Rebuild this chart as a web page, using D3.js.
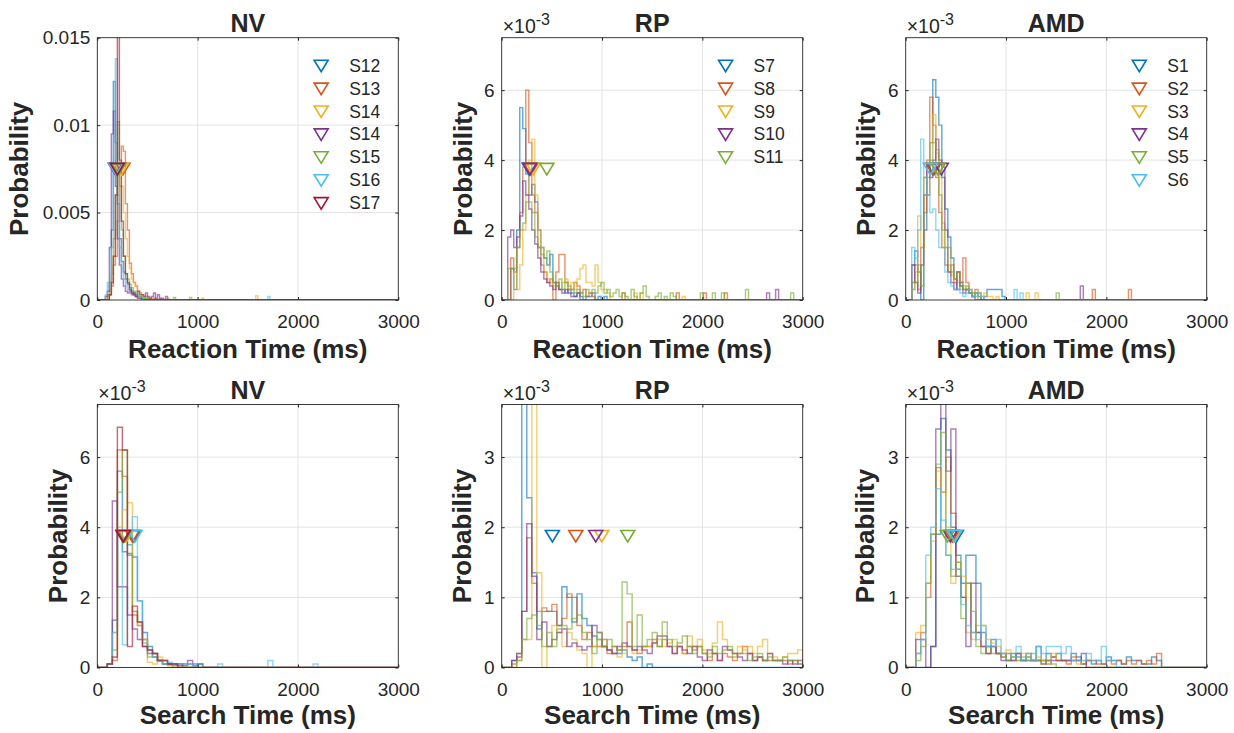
<!DOCTYPE html>
<html><head><meta charset="utf-8">
<script src="https://cdn.jsdelivr.net/npm/d3@7"></script>
<style>
body{margin:0;background:#fff}
text{font-family:"Liberation Sans",Arial,Helvetica,sans-serif;fill:#262626}
</style>
</head><body>
<svg id="chart" width="1234" height="733"></svg>
<script>
// ---------------- DATA (probability values in units of 1e-3) ----------------
const xTickValues = [0, 1000, 2000, 3000];
const seriesColors = ["#0072BD", "#D95319", "#EDB120", "#7E2F8E", "#77AC30", "#4DBEEE", "#A2142F"];
const nvNames = ["S12", "S13", "S14", "S14", "S15", "S16", "S17"];
const rpNames = ["S7", "S8", "S9", "S10", "S11"];
const amdNames = ["S1", "S2", "S3", "S4", "S5", "S6"];

// Reaction time, NV  (bins of 20 ms starting at 80 ms)
const rtNVStart = 80, rtNVWidth = 20;
const rtNVCounts = [
  [0, 0.3, 1.0, 4.0, 12.5, 9.0, 5.5, 3.5, 2.2, 1.6, 1.2, 0.9, 0.7, 0.5, 0.4, 0.3, 0.2, 0.2, 0.1, 0.1, 0, 0.1],
  [0, 0, 0.3, 0.8, 2.0, 2.5, 4.5, 7.3, 8.8, 8.5, 5.5, 4.0, 2.1, 1.5, 1.0, 0.8, 0.5, 0.4, 0.3, 0.2, 0.2, 0.1, 0.1, 0, 0.1],
  [0, 0.2, 0.5, 1.2, 2.5, 4.0, 6.0, 7.0, 6.5, 5.0, 3.5, 2.5, 1.8, 1.2, 1.0, 0.8, 0.5, 0.4, 0.3, 0.2, 0.2, 0.1, 0.1, 0, 0.1, 0, 0, 0.1, 0, 0, 0, 0.1],
  [0.2, 0.5, 3.0, 9.5, 10.8, 6.5, 3.5, 2.0, 1.2, 0.8, 0.5, 0.4, 0.5, 0.3, 0.4, 0.2, 0.5, 0.3, 0.3, 0.2, 0.4, 0.2, 0.1, 0.2, 0.4, 0.1, 0.3, 0.1, 0.1, 0, 0.2],
  [0, 0, 0.3, 1.5, 3.5, 6.0, 10.2, 6.5, 4.0, 2.5, 1.5, 1.2, 0.9, 0.7, 0.5, 0.4, 0.3, 0.2, 0.2, 0.1, 0.1, 0.1],
  [0.3, 1.0, 0.6, 3.0, 8.0, 13.8, 6.0, 3.0, 1.8, 1.2, 0.8, 0.6, 0.5, 0.4, 0.3, 0.2, 0.2, 0.1, 0.1],
  [0, 0, 0.3, 1.0, 2.5, 6.0, 17.0, 8.0, 4.5, 2.5, 1.5, 1.0, 0.6, 0.4, 0.3, 0.2, 0.1, 0.1]
];
const rtNVOutliers = [[], [], [[1040, 0.1], [1590, 0.25]], [], [[770, 0.15], [920, 0.15]], [[1700, 0.2]], []];
const rtNVMedians = [195, 255, 240, 180, 215, 185, 200];
const rtNVYTicks = [0, 5, 10, 15];
const rtNVYTickLabels = ["0", "0.005", "0.01", "0.015"];

// Reaction time, RP  (bins of 30 ms starting at 60 ms)
const rtRPStart = 60, rtRPWidth = 30;
const rtRPCounts = [
  [0, 0.9, 0.3, 2.0, 5.5, 4.9, 3.6, 3.0, 3.3, 2.8, 2.0, 1.5, 1.2, 1.0, 1.3, 0.5, 0.4, 0.3, 0.3, 0.2, 0.3, 0.2, 0.1, 0.2, 0.1, 0, 0.1, 0.1, 0.2, 0, 0.1, 0, 0.1],
  [0, 1.2, 0.8, 1.5, 2.5, 3.8, 6.0, 4.5, 3.0, 2.5, 1.5, 1.0, 0.8, 0.5, 0.6, 0, 0.8, 1.3, 1.3, 0.5, 0.3, 0.3, 0.5, 0.4, 0.2, 0.3, 0.1, 0.2, 0.1],
  [0, 0, 0.8, 0.3, 1.0, 2.0, 3.0, 4.0, 4.6, 3.0, 2.0, 1.5, 0.8, 0.6, 0.5, 0.4, 0.5, 0.3, 0.5, 0.6, 0.3, 0.5, 0.3, 0.6, 0.9, 1.0, 0.5, 0.5, 0.4, 1.0, 0.5, 0.3, 0.3, 0.2],
  [1.8, 2.0, 1.5, 1.8, 2.4, 3.4, 3.0, 2.6, 2.0, 1.6, 1.2, 0.8, 0.6, 0.5, 0.4, 0.3, 0.5, 0.3, 0.2, 0.3, 0.2, 0.1, 0.1, 0.2],
  [0.9, 0.9, 0.9, 1.5, 2.0, 2.2, 2.8, 2.8, 2.5, 1.8, 1.5, 1.3, 1.2, 1.4, 0.8, 0.5, 0.4, 0.6, 0.3, 0.5, 0.4, 0.3, 0.2, 0.3, 0.2, 0.1, 0.3, 0.2, 0.3, 0.2, 0.4, 0.5, 0.2, 0.3, 0.1, 0.2, 0.3, 0.1, 0.2, 0.1, 0, 0.3, 0.1, 0, 0.2, 0.4, 0.1, 0, 0, 0.1, 0.2, 0, 0.1, 0, 0.2, 0.1]
];
const rtRPOutliers = [[], [[1200, 0.2], [1750, 0.2], [2030, 0.2], [2230, 0.2]], [[1320, 0.2], [1400, 0.2], [1800, 0.1]], [[2650, 0.2], [2750, 0.3]], [[2000, 0.2], [2100, 0.2], [2200, 0.2], [2450, 0.3], [2900, 0.2]]];
const rtRPMedians = [275, 290, 315, 280, 450];

// Reaction time, AMD  (bins of 30 ms starting at 60 ms)
const rtAMDStart = 60, rtAMDWidth = 30;
const rtAMDCounts = [
  [1.0, 1.4, 0.8, 0, 2.0, 3.0, 4.5, 6.3, 5.8, 5.0, 3.5, 2.6, 1.8, 1.2, 0.6, 0.3, 0.5, 0.3, 0.3, 0.2, 0.1, 0.2, 0.1, 0, 0.1, 0.3, 0.3, 0.3, 0.3, 0.3, 0.1],
  [0.5, 1.0, 0.3, 1.5, 2.5, 4.0, 5.8, 5.0, 3.5, 2.5, 1.5, 1.0, 0.8, 1.0, 0.5, 0.8, 0.5, 1.2, 0.5, 0.3, 0.2, 0.3, 0.2],
  [0.3, 0.8, 2.4, 1.5, 3.5, 3.0, 4.5, 5.3, 4.2, 3.5, 2.2, 1.5, 1.0, 0.7, 0.6, 0.5, 0.3, 0.4, 0.3, 0.2, 0.2, 0.1, 0.2, 0.1, 0.2, 0.1, 0.1, 0, 0.1],
  [1.0, 0.5, 0.2, 1.0, 3.0, 3.9, 3.5, 4.0, 4.6, 4.0, 3.8, 2.0, 0.8, 0.5, 0.3, 0.8, 0.4, 0.2, 0.3, 0.2, 0.1],
  [0.3, 0.5, 1.0, 0.4, 3.5, 3.5, 4.0, 4.5, 4.3, 3.0, 2.0, 1.5, 1.5, 0.8, 0.6, 0.8, 0.4, 0.3, 0.4, 0.2, 0.1, 0.2],
  [1.5, 1.2, 2.0, 4.6, 3.5, 3.0, 2.5, 2.6, 2.0, 1.5, 1.5, 0.8, 0.5, 0.4, 0.3, 0.3, 0.2, 0.1, 0.2, 0.3, 0.1, 0.1, 0.2, 0.1]
];
const rtAMDOutliers = [[], [[1870, 0.3], [2220, 0.3]], [[1220, 0.2], [1290, 0.2]], [[1750, 0.4]], [[1500, 0.2]], [[1100, 0.3], [1160, 0.2]]];
const rtAMDMedians = [280, 270, 320, 355, 325, 245];
const rtYTicks = [0, 2, 4, 6];
const rtYTickLabels = ["0", "2", "4", "6"];

// Search time, NV  (bins of 50 ms starting at 100 ms)
const stNVStart = 100, stNVWidth = 50;
const stNVCounts = [
  [0.1, 1.35, 5.6, 3.3, 3.25, 3.15, 1.9, 1.0, 0.6, 0.4, 0.2, 0.2, 0.1, 0.1, 0.1, 0.05, 0.1, 0.1, 0.1],
  [0.1, 0.2, 6.2, 5.45, 3.2, 1.5, 1.3, 0.8, 0.5, 0.4, 0.2, 0.1, 0.1, 0.05, 0.1],
  [0.1, 1.0, 4.0, 4.5, 4.7, 1.6, 1.2, 0.8, 0.15, 0.1, 0.3, 0.2, 0.1],
  [0.1, 4.75, 2.3, 2.3, 1.5, 1.1, 0.8, 0.6, 0.4, 0.3, 0.2, 0.1, 0.1, 0.1, 0.05, 0.1, 0.2, 0.05, 0.1],
  [0.1, 0.5, 5.0, 6.2, 3.5, 1.6, 1.2, 0.7, 0.3, 0.3, 0.2, 0.1, 0.05],
  [0.1, 1.0, 3.8, 0.65, 3.5, 4.3, 1.9, 0.8, 0.5, 0.3, 0.2, 0.1, 0.15, 0.1, 0.1, 0.1, 0.1, 0.05, 0.1],
  [0.1, 0.3, 6.85, 6.2, 0.6, 1.75, 1.3, 0.6, 0.5, 0.4, 0.2, 0.2, 0.1, 0.1]
];
const stNVOutliers = [[], [], [], [], [], [[1200, 0.1], [1730, 0.2], [2180, 0.1]], []];
const stNVMedians = [365, 350, 290, 255, 275, 375, 260];
const stNVYTicks = [0, 2, 4, 6];
const stNVYTickLabels = ["0", "2", "4", "6"];

// Search time, RP  (bins of 50 ms starting at 100 ms)
const stRPStart = 100, stRPWidth = 50;
const stRPCounts = [
  [0.1, 0.2, 4.5, 2.42, 1.35, 0.55, 0.8, 0.8, 0.8, 0.6, 1.15, 1.0, 0.65, 1.05, 0.7, 0.6, 0.45, 0.4, 0.3, 0.25, 0.2, 0.2, 0.25, 0.15, 0.1, 0.15, 0, 0.05],
  [0.05, 0.2, 0.8, 1.85, 1.2, 0.8, 0.85, 0.8, 0.9, 0.6, 0.7, 1.05, 1.0, 0.6, 0.4, 0.5, 0.3, 0.3, 0.4, 0.2, 0.3, 0.25, 0.3, 0.65, 0.25, 0.2, 0.3, 0.3, 0.4, 0.3, 0.4, 0.3, 0.2, 0.3, 0.2, 0.3, 0.25, 0.3, 0.2, 0.1, 0.2, 0.1, 0.2, 0.15, 0.1, 0.2, 0.3, 0.2, 0.1, 0.15, 0.1, 0.1, 0.1, 0.1, 0.1, 0.05, 0.1, 0.05],
  [0, 0.1, 0.4, 0.4, 6.0, 1.35, 0, 0.3, 0.6, 0.5, 0.3, 0.5, 0.4, 0.25, 0.2, 0, 0.3, 0.4, 0.3, 0.25, 0.2, 0.15, 0.2, 0.3, 0.2, 0.25, 0.3, 0.3, 0.35, 0.4, 0.3, 0.35, 0.4, 0.3, 0.2, 0.45, 0.3, 0.4, 0.25, 0.2, 0.35, 0.65, 0.4, 0.25, 0.2, 0.3, 0.25, 0.3, 0.2, 0.3, 0.4, 0.2, 0.15, 0.1, 0.15, 0.2, 0.2, 0.25],
  [0.1, 0.15, 0.8, 2.05, 1.3, 0.4, 0.65, 0.3, 0.4, 0.5, 0.55, 0.3, 0.35, 0.3, 0.25, 0.3, 0.6, 0.5, 0.3, 0.25, 0.2, 0.3, 0.35, 0.3, 0.25, 0.3, 0.25, 0.2, 0.35, 0.45, 0.45, 0.3, 0.2, 0.3, 0.25, 0.2, 0.3, 0.15, 0.1, 0.25, 0.2, 0.1, 0.3, 0.25, 0.2, 0.15, 0.1, 0.2, 0.1, 0.15, 0.1, 0.2, 0.1, 0.1, 0.05, 0.1, 0.05, 0.1],
  [0, 0.1, 0.4, 0.7, 0.75, 0.6, 0.3, 0.5, 0.3, 0.55, 0.6, 0.55, 0.7, 0.75, 0.5, 0.4, 0.2, 0.5, 0.3, 0.4, 0.3, 0.25, 1.22, 1.05, 0.3, 0.75, 0.3, 0.4, 0.5, 0.3, 0.65, 0.4, 0.3, 0.35, 0.45, 0.3, 0.2, 0.3, 0.2, 0.15, 0.3, 0.2, 0.25, 0.3, 0.15, 0.2, 0.2, 0.1, 0.15, 0.2, 0.1, 0.15, 0.1, 0.1, 0.15, 0.1, 0.1, 0.05]
];
const stRPOutliers = [[], [], [], [], []];
const stRPMedians = [505, 738, 997, 937, 1256];

// Search time, AMD  (bins of 50 ms starting at 100 ms)
const stAMDStart = 100, stAMDWidth = 50;
const stAMDCounts = [
  [0, 0, 0, 0.3, 1.9, 3.55, 3.1, 2.0, 1.6, 1.2, 1.6, 1.6, 1.2, 0.5, 0.3, 0.4, 0.2, 0.2, 0.1, 0.2, 0.15, 0.1, 0.15, 0.1, 0.3, 0.1, 0.2, 0.15, 0.2, 0.1, 0.1, 0.2, 0.15, 0.05, 0.1, 0.05, 0.1, 0.05, 0.15, 0.1, 0.1, 0.05, 0.15, 0.1, 0.1, 0.05, 0.05, 0.15, 0.1],
  [0.2, 0.5, 1.0, 1.9, 2.85, 2.5, 3.0, 2.2, 1.4, 1.0, 1.2, 0.5, 0.5, 0.3, 0.2, 0.3, 0.2, 0.15, 0.2, 0.1, 0.2, 0.1, 0.2, 0.1, 0.1, 0.1, 0.05, 0.15, 0.1, 0.1, 0.05, 0.15, 0.1, 0.05, 0.1, 0.1, 0.05, 0.05, 0.1, 0.05, 0.1, 0.05, 0.1, 0.05, 0.1, 0.05, 0.1, 0.05, 0.2],
  [0.5, 0.6, 1.2, 1.8, 2.8, 2.5, 2.0, 1.2, 1.5, 1.3, 0.5, 0.4, 0.6, 0.6, 0.4, 0.35, 0.3, 0.2, 0.25, 0.15, 0.1, 0.2, 0.15, 0.1, 0.15, 0.1, 0.1, 0.2, 0.1, 0.1, 0.1, 0.1, 0.05, 0.1],
  [0.4, 0.4, 0, 0.3, 3.4, 4.0, 2.8, 3.4, 1.3, 1.0, 0.3, 1.2, 0.5, 0.3, 0.2, 0.3, 0.2, 0.1, 0.1, 0.1, 0.2, 0.1, 0.1, 0.1, 0.1, 0.05, 0.1, 0.1, 0.1, 0.1, 0.1, 0.1, 0.1, 0.2],
  [0.1, 0.3, 1.2, 1.9, 2.9, 3.35, 1.6, 1.3, 1.5, 0.7, 1.2, 0.8, 0.3, 0.2, 0.3, 0.2, 0.2, 0.15, 0.1, 0.15, 0.1, 0.15, 0.1, 0.2, 0.1, 0.05, 0.1, 0.05],
  [0.2, 0.4, 1.6, 2.0, 2.55, 2.1, 1.6, 1.4, 1.4, 0.9, 0.6, 0.5, 0.4, 0.6, 0.3, 0.3, 0.4, 0.2, 0.2, 0.15, 0.3, 0.1, 0.2, 0.1, 0.3, 0.2, 0.3, 0.3, 0.3, 0.2, 0.3, 0.1, 0.1, 0.1, 0.2, 0.1, 0.1, 0.3, 0.1, 0.1]
];
const stAMDOutliers = [[], [], [], [], [], []];
const stAMDMedians = [505, 465, 480, 445, 415, 490];
const stYTicks = [0, 1, 2, 3];
const stYTickLabels = ["0", "1", "2", "3"];

// ---------------- LAYOUT ----------------
const colX = [[97.3, 398.3], [501.7, 802.7], [905.7, 1206.7]];
const rowY = [[37.7, 300], [404.5, 667.5]];

const panels = [
  {row: 0, col: 0, title: "NV", xLabel: "Reaction Time (ms)", names: nvNames, start: rtNVStart, width: rtNVWidth, counts: rtNVCounts, outliers: rtNVOutliers, medians: rtNVMedians, yMax: 15, yTicks: rtNVYTicks, yTickLabels: rtNVYTickLabels, exponent: false, legend: true, yLabelOff: 69},
  {row: 0, col: 1, title: "RP", xLabel: "Reaction Time (ms)", names: rpNames, start: rtRPStart, width: rtRPWidth, counts: rtRPCounts, outliers: rtRPOutliers, medians: rtRPMedians, yMax: 7.5, yTicks: rtYTicks, yTickLabels: rtYTickLabels, exponent: true, legend: true, yLabelOff: 30},
  {row: 0, col: 2, title: "AMD", xLabel: "Reaction Time (ms)", names: amdNames, start: rtAMDStart, width: rtAMDWidth, counts: rtAMDCounts, outliers: rtAMDOutliers, medians: rtAMDMedians, yMax: 7.5, yTicks: rtYTicks, yTickLabels: rtYTickLabels, exponent: true, legend: true, yLabelOff: 31},
  {row: 1, col: 0, title: "NV", xLabel: "Search Time (ms)", names: nvNames, start: stNVStart, width: stNVWidth, counts: stNVCounts, outliers: stNVOutliers, medians: stNVMedians, yMax: 7.5, yTicks: stNVYTicks, yTickLabels: stNVYTickLabels, exponent: true, legend: false, yLabelOff: 30},
  {row: 1, col: 1, title: "RP", xLabel: "Search Time (ms)", names: rpNames, start: stRPStart, width: stRPWidth, counts: stRPCounts, outliers: stRPOutliers, medians: stRPMedians, yMax: 3.75, yTicks: stYTicks, yTickLabels: stYTickLabels, exponent: true, legend: false, yLabelOff: 31},
  {row: 1, col: 2, title: "AMD", xLabel: "Search Time (ms)", names: amdNames, start: stAMDStart, width: stAMDWidth, counts: stAMDCounts, outliers: stAMDOutliers, medians: stAMDMedians, yMax: 3.75, yTicks: stYTicks, yTickLabels: stYTickLabels, exponent: true, legend: false, yLabelOff: 32}
];

const svg = d3.select("#chart");
const defs = svg.append("defs");
const triPath = "M-7,-5.5L7,-5.5L0,6Z";
const fontFam = '"Liberation Sans",Arial,sans-serif';

panels.forEach((p, pi) => {
  const [x0, x1] = colX[p.col];
  const [y0, y1] = rowY[p.row];
  const x = d3.scaleLinear().domain([0, 3000]).range([x0, x1]);
  const y = d3.scaleLinear().domain([0, p.yMax]).range([y1, y0]);
  const g = svg.append("g");

  defs.append("clipPath").attr("id", "clip" + pi)
    .append("rect").attr("x", x0).attr("y", y0).attr("width", x1 - x0).attr("height", y1 - y0);

  // grid
  g.append("g").selectAll("line").data(xTickValues.slice(1, -1)).join("line")
    .attr("x1", d => x(d)).attr("x2", d => x(d)).attr("y1", y0).attr("y2", y1)
    .attr("stroke", "#e3e3e3").attr("stroke-width", 1);
  g.append("g").selectAll("line").data(p.yTicks.filter(d => d > 0 && d < p.yMax)).join("line")
    .attr("x1", x0).attr("x2", x1).attr("y1", d => y(d)).attr("y2", d => y(d))
    .attr("stroke", "#e3e3e3").attr("stroke-width", 1);

  // histograms (stairs)
  const hg = g.append("g").attr("clip-path", `url(#clip${pi})`);
  const line = d3.line().x(d => x(d[0])).y(d => y(d[1]));
  p.counts.forEach((vals, si) => {
    const nb = Math.max(vals.length, Math.ceil((3000 - p.start) / p.width));
    const bins = Array.from({length: nb}, (_, i) => vals[i] || 0);
    p.outliers[si].forEach(([ms, v]) => { bins[Math.floor((ms - p.start) / p.width)] = v; });
    const pts = [[0, 0], [p.start, 0]];
    bins.forEach((v, i) => {
      pts.push([p.start + i * p.width, v]);
      pts.push([p.start + (i + 1) * p.width, v]);
    });
    const end = p.start + nb * p.width;
    pts.push([end, 0]);
    if (end < 3000) pts.push([3000, 0]);
    hg.append("path").attr("d", line(pts)).attr("fill", "none")
      .attr("stroke", seriesColors[si]).attr("stroke-opacity", 0.62).attr("stroke-width", 1.45);
  });

  // median markers
  g.append("g").selectAll("path").data(p.medians).join("path")
    .attr("d", triPath)
    .attr("transform", d => `translate(${x(d)},${y(p.yMax / 2)})`)
    .attr("fill", "none").attr("stroke", (d, i) => seriesColors[i]).attr("stroke-width", 1.6)
    .attr("stroke-linejoin", "miter");

  // axes
  const fs = "19px";
  const ax = g.append("g").attr("transform", `translate(0,${y1})`)
    .call(d3.axisBottom(x).tickValues(xTickValues).tickFormat(d3.format("d"))
      .tickSizeInner(-3).tickSizeOuter(0).tickPadding(15));
  ax.select(".domain").remove();
  ax.selectAll("text").attr("font-size", fs).attr("fill", "#262626").style("font-family", fontFam);
  ax.selectAll("line").attr("stroke", "#262626");
  const axT = g.append("g").attr("transform", `translate(0,${y0})`)
    .call(d3.axisTop(x).tickValues(xTickValues).tickSizeInner(-3).tickSizeOuter(0).tickFormat(""));
  axT.select(".domain").remove(); axT.selectAll("line").attr("stroke", "#262626");

  const ay = g.append("g").attr("transform", `translate(${x0},0)`)
    .call(d3.axisLeft(y).tickValues(p.yTicks).tickSizeInner(-3).tickSizeOuter(0).tickPadding(7)
      .tickFormat((d, i) => p.yTickLabels[i]));
  ay.select(".domain").remove();
  ay.selectAll("text").attr("font-size", fs).attr("fill", "#262626").style("font-family", fontFam);
  ay.selectAll("line").attr("stroke", "#262626");
  const ayR = g.append("g").attr("transform", `translate(${x1},0)`)
    .call(d3.axisRight(y).tickValues(p.yTicks).tickSizeInner(-3).tickSizeOuter(0).tickFormat(""));
  ayR.select(".domain").remove(); ayR.selectAll("line").attr("stroke", "#262626");

  // box
  g.append("rect").attr("x", x0).attr("y", y0).attr("width", x1 - x0).attr("height", y1 - y0)
    .attr("fill", "none").attr("stroke", "#262626").attr("stroke-width", 0.9);

  // exponent
  if (p.exponent) {
    const t = g.append("text").attr("x", x0 + 1).attr("y", y0 - 5).attr("font-size", "19.5px");
    t.append("tspan").text("\u00d710");
    t.append("tspan").attr("font-size", "16px").attr("dy", -8).text("-3");
  }

  // title
  g.append("text").attr("x", (x0 + x1) / 2).attr("y", y0 - 6).attr("text-anchor", "middle")
    .attr("font-size", "25px").attr("font-weight", "bold").attr("fill", "#000").text(p.title);

  // x label
  g.append("text").attr("x", (x0 + x1) / 2).attr("y", y1 + (p.row === 0 ? 58 : 56)).attr("text-anchor", "middle")
    .attr("font-size", "26px").attr("font-weight", "bold").attr("fill", "#262626").text(p.xLabel);

  // y label
  g.append("text").attr("transform", `translate(${x0 - p.yLabelOff},${(y0 + y1) / 2}) rotate(-90)`)
    .attr("text-anchor", "middle").attr("font-size", "26px").attr("font-weight", "bold")
    .attr("fill", "#262626").text("Probability");

  // legend
  if (p.legend) {
    const lg = g.append("g");
    const texts = lg.selectAll("text").data(p.names).join("text")
      .attr("y", (d, i) => y0 + 28 + i * 22.9).attr("dominant-baseline", "central")
      .attr("font-size", "17.5px").text(d => d);
    let maxW = 0;
    texts.each(function () { maxW = Math.max(maxW, this.getComputedTextLength()); });
    const tx = x1 - 18 - maxW;
    texts.attr("x", tx);
    lg.selectAll("path").data(p.names).join("path").attr("d", triPath)
      .attr("transform", (d, i) => `translate(${tx - 28},${y0 + 28 + i * 22.9})`)
      .attr("fill", "none").attr("stroke", (d, i) => seriesColors[i]).attr("stroke-width", 1.6);
  }
});
</script>
</body></html>
